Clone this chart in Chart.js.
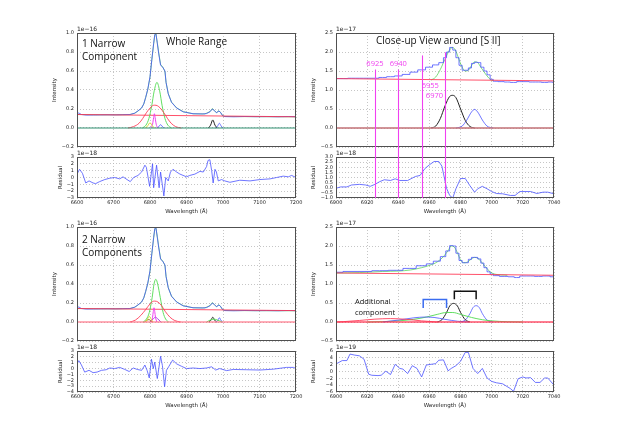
<!DOCTYPE html>
<html>
<head>
<meta charset="utf-8">
<script src="https://cdn.jsdelivr.net/npm/chart.js@4.4.1/dist/chart.umd.min.js"></script>
<style>
html, body { margin: 0; padding: 0; background: #fff; }
#wrap { position: relative; width: 623px; height: 440px; overflow: hidden; }
#wrap canvas { position: absolute; left: 0; top: 0; }
</style>
</head>
<body>
<div id="wrap"></div>
<script>
/* ===============================
   DATA
=================================*/

// axis ticks
const xTicksWhole = [6600, 6700, 6800, 6900, 7000, 7100, 7200];
const xTicksClose = [6900, 6920, 6940, 6960, 6980, 7000, 7020, 7040];
const yTicksWhole = [-0.2, 0, 0.2, 0.4, 0.6, 0.8, 1.0];
const yTicksClose = [-0.5, 0, 0.5, 1.0, 1.5, 2.0, 2.5];
const yTicksRes1 = [-3, -2, -1, 0, 1, 2, 3];
const yTicksRes2 = [-1.0, -0.5, 0, 0.5, 1.0, 1.5, 2.0, 2.5, 3.0];
const yTicksRes3 = [-4, -3, -2, -1, 0, 1, 2, 3];
const yTicksRes4 = [-6, -4, -2, 0, 2, 4, 6];

// whole range spectrum (1e-16)
const wlWhole = [6600, 6605, 6612, 6625, 6645, 6665, 6685, 6705, 6725, 6745, 6758, 6767, 6777, 6783, 6788, 6794, 6800, 6805, 6810, 6813, 6816, 6820, 6824, 6829, 6835, 6841, 6844, 6850, 6859, 6873, 6891, 6918, 6945, 6955, 6964, 6971, 6976, 6982, 6989, 6994, 6999, 7005, 7030, 7060, 7090, 7120, 7150, 7180, 7200];
const fluxWhole = [0.150, 0.158, 0.142, 0.136, 0.137, 0.138, 0.139, 0.138, 0.140, 0.142, 0.156, 0.180, 0.210, 0.255, 0.320, 0.410, 0.540, 0.720, 0.890, 0.980, 1.000, 0.890, 0.780, 0.660, 0.640, 0.600, 0.480, 0.360, 0.270, 0.210, 0.170, 0.150, 0.148, 0.152, 0.170, 0.200, 0.185, 0.160, 0.180, 0.160, 0.130, 0.120, 0.118, 0.121, 0.119, 0.120, 0.118, 0.121, 0.119];
const wlFitWhole = [6600, 6650, 6700, 6745, 6758, 6767, 6777, 6783, 6788, 6794, 6800, 6805, 6810, 6813, 6816, 6820, 6824, 6829, 6835, 6841, 6844, 6850, 6859, 6873, 6891, 6918, 6950, 6964, 6971, 6976, 6982, 6989, 6994, 6999, 7005, 7100, 7200];
const fitWhole = [0.142, 0.139, 0.139, 0.141, 0.155, 0.178, 0.212, 0.252, 0.318, 0.405, 0.535, 0.715, 0.885, 0.975, 0.995, 0.900, 0.790, 0.670, 0.640, 0.595, 0.480, 0.362, 0.272, 0.212, 0.172, 0.150, 0.148, 0.172, 0.205, 0.185, 0.162, 0.182, 0.160, 0.130, 0.121, 0.119, 0.118];
const wlEnds = [6600, 7200];
const zeroEnds = [0, 0];

// 1 narrow component, whole range
const contA = [0.142, 0.118];
const wlBroadA = [6740, 6755, 6770, 6780, 6790, 6800, 6807, 6813, 6820, 6828, 6838, 6848, 6858, 6870, 6886];
const broadA = [0, 0.015, 0.05, 0.1, 0.16, 0.21, 0.235, 0.24, 0.235, 0.21, 0.16, 0.1, 0.05, 0.015, 0];
const wlMidA = [6779, 6789, 6797, 6805, 6811, 6819, 6827, 6833, 6841, 6849, 6859];
const midA = [0, 0.03, 0.1, 0.24, 0.38, 0.48, 0.38, 0.24, 0.1, 0.03, 0];
const wlYelA = [6788, 6794, 6800, 6806, 6812];
const yelA = [0, 0.025, 0.055, 0.025, 0];
const wlMagA = [6803, 6807, 6810, 6812, 6814, 6817, 6821];
const magA = [0, 0.04, 0.11, 0.15, 0.11, 0.04, 0];
const wlBlueNarrowA = [6820, 6825, 6829, 6833, 6838];
const blueNarrowA = [0, 0.02, 0.035, 0.02, 0];
const wlBlackA = [6960, 6966, 6972, 6978, 6984];
const blackA = [0, 0.03, 0.085, 0.03, 0];
const wlBlueA = [6980, 6985, 6990, 6995, 7000];
const blueA = [0, 0.02, 0.05, 0.02, 0];

// 2 narrow components, whole range
const contC = [0.142, 0.12];
const wlBroadC = [6745, 6760, 6775, 6788, 6800, 6807, 6813, 6822, 6832, 6842, 6855, 6868, 6884];
const broadC = [0, 0.02, 0.07, 0.13, 0.19, 0.215, 0.22, 0.21, 0.17, 0.11, 0.05, 0.015, 0];
const wlMidC = [6781, 6790, 6798, 6806, 6811, 6816, 6821, 6828, 6836, 6843, 6851];
const midC = [0, 0.03, 0.1, 0.26, 0.4, 0.45, 0.4, 0.26, 0.1, 0.03, 0];
const wlMagC = [6803, 6807, 6809, 6811, 6813, 6815, 6819];
const magC = [0, 0.05, 0.11, 0.15, 0.11, 0.05, 0];
const wlPurC = [6800, 6808, 6815, 6822, 6830];
const purC = [0, 0.03, 0.05, 0.03, 0];
const wlYelC = [6788, 6793, 6798, 6803, 6808];
const yelC = [0, 0.03, 0.06, 0.03, 0];
const wlOliveC = [6785, 6792, 6798, 6804];
const oliveC = [0, 0.02, 0.025, 0];
const wlGreenSiiC = [6955, 6965, 6975, 6985, 6998];
const greenSiiC = [0, 0.02, 0.03, 0.02, 0];
const wlBlackC = [6962, 6967, 6972, 6977, 6982];
const blackC = [0, 0.02, 0.05, 0.02, 0];
const wlBlueC = [6981, 6986, 6990, 6994, 6999];
const blueC = [0, 0.02, 0.045, 0.02, 0];

// close-up, 1 narrow (1e-17)
const wlCloseB = [6900, 6905, 6910, 6915, 6920, 6925, 6930, 6935, 6940, 6945, 6950, 6955, 6960, 6964, 6968, 6970, 6972, 6974, 6976, 6978, 6980, 6982, 6984, 6986, 6988, 6990, 6992, 6994, 6996, 6998, 7000, 7002, 7006, 7010, 7014, 7018, 7022, 7026, 7030, 7034, 7038, 7040];
const fluxCloseB = [1.30, 1.30, 1.31, 1.31, 1.31, 1.31, 1.33, 1.35, 1.37, 1.41, 1.47, 1.53, 1.60, 1.66, 1.72, 1.85, 2.00, 2.12, 2.05, 1.85, 1.65, 1.52, 1.52, 1.58, 1.70, 1.73, 1.72, 1.60, 1.50, 1.40, 1.28, 1.23, 1.22, 1.21, 1.20, 1.22, 1.22, 1.21, 1.21, 1.20, 1.21, 1.20];
const wlFitB = [6961, 6964, 6967, 6969, 6971, 6973, 6975, 6977, 6979, 6981, 6983, 6985, 6987, 6989, 6991, 6993, 6995, 6997, 6999, 7001];
const fitB = [1.26, 1.34, 1.54, 1.72, 1.90, 2.06, 2.12, 2.02, 1.80, 1.60, 1.50, 1.52, 1.64, 1.74, 1.72, 1.60, 1.48, 1.37, 1.28, 1.24];
const wlCloseEnds = [6900, 7040];
const contB = [1.30, 1.24];
const wlBlackB = [6961, 6964, 6967, 6970, 6973, 6975, 6977, 6980, 6983, 6986, 6989];
const blackB = [0, 0.05, 0.25, 0.58, 0.83, 0.86, 0.80, 0.50, 0.20, 0.04, 0];
const wlBlueB = [6977, 6981, 6984, 6987, 6989, 6991, 6994, 6997, 7001];
const blueB = [0, 0.05, 0.21, 0.42, 0.49, 0.42, 0.21, 0.05, 0];

// fit-window markers on the close-up
const markWl = [6925, 6940, 6955, 6970];
const markTop = [1.54, 1.54, 1.91, 1.99];
const markLabelY = [1.70, 1.70, 1.12, 0.85];
const markAlign = ['center', 'center', 'left', 'right'];

// close-up, 2 narrow
const wlCloseD = [6900, 6909, 6918, 6928, 6939, 6947, 6956, 6960, 6965, 6969, 6972, 6974, 6976, 6978, 6980, 6982, 6984, 6986, 6988, 6990, 6992, 6994, 6996, 6998, 7000, 7002, 7008, 7013, 7016, 7020, 7025, 7030, 7035, 7040];
const fluxCloseD = [1.31, 1.33, 1.33, 1.35, 1.36, 1.41, 1.48, 1.53, 1.60, 1.72, 1.87, 2.01, 2.00, 1.81, 1.62, 1.56, 1.56, 1.65, 1.70, 1.70, 1.66, 1.55, 1.43, 1.32, 1.26, 1.22, 1.20, 1.19, 1.17, 1.21, 1.21, 1.20, 1.21, 1.19];
const wlFitD = [6900, 6915, 6930, 6940, 6948, 6955, 6960, 6965, 6969, 6972, 6974, 6976, 6978, 6980, 6982, 6984, 6987, 6989, 6991, 6993, 6996, 6999, 7002, 7010];
const fitD = [1.29, 1.30, 1.33, 1.34, 1.37, 1.43, 1.49, 1.58, 1.72, 1.88, 2.00, 1.97, 1.82, 1.63, 1.56, 1.57, 1.66, 1.70, 1.68, 1.60, 1.45, 1.32, 1.26, 1.23];
const contD = [1.29, 1.23];
const wlBlackD = [6965, 6968, 6971, 6973, 6975.5, 6978, 6980, 6983, 6986];
const blackD = [0, 0.06, 0.25, 0.42, 0.49, 0.42, 0.25, 0.06, 0];
const wlBlueD = [6980, 6983, 6986, 6988, 6990, 6992, 6994, 6997, 7001];
const blueD = [0, 0.05, 0.22, 0.38, 0.43, 0.38, 0.22, 0.05, 0];
const wlGreenD = [6920, 6930, 6940, 6950, 6958, 6965, 6971, 6975, 6980, 6987, 6994, 7000, 7010, 7020];
const greenD = [0, 0.01, 0.03, 0.07, 0.13, 0.2, 0.25, 0.25, 0.2, 0.12, 0.06, 0.03, 0.006, 0];
const wlRedD = [6900, 6905, 6915, 6925, 6935, 6945, 6955, 6965];
const redD = [0, 0.01, 0.04, 0.075, 0.09, 0.07, 0.03, 0];
const wlAddD = [6930, 6940, 6950, 6957, 6963, 6970, 6978, 6985];
const addD = [0, 0.05, 0.11, 0.13, 0.12, 0.07, 0.02, 0];

// doublet brackets
const brX0 = [6956, 6976];
const brX1 = [6971, 6990];
const brTop = [0.59, 0.81];
const brLeg = [0.37, 0.60];
const brColor = ['#3a6cf0', '#111'];

// residuals
const wlRes1 = [6600, 6607, 6615, 6624, 6633, 6644, 6651, 6662, 6676, 6690, 6703, 6717, 6726, 6737, 6746, 6755, 6767, 6777, 6786, 6790, 6799, 6807, 6810, 6818, 6825, 6829, 6838, 6843, 6850, 6856, 6863, 6873, 6882, 6900, 6909, 6923, 6937, 6946, 6955, 6959, 6964, 6969, 6973, 6978, 6982, 6987, 6996, 7005, 7019, 7046, 7074, 7101, 7129, 7147, 7165, 7179, 7188, 7200];
const res1 = [0.5, 1.2, 0.6, -0.8, -0.5, -0.8, -0.9, -0.6, -0.3, -0.1, 0.0, -0.2, 0.1, -0.3, -0.6, 0.0, 0.3, 0.8, 1.8, 1.5, -1.3, 2.0, -1.5, 1.8, -1.5, 0.8, -2.7, 0.0, -0.5, 0.8, 1.2, 0.8, 0.5, 0.1, 0.3, 0.5, 0.9, 0.8, 1.6, 2.5, 2.6, 1.0, -0.8, 1.2, 0.8, -0.5, -0.3, -0.5, -0.7, -0.4, -0.5, -0.3, -0.2, 0.0, 0.2, 0.1, 0.3, 0.0];
const wlRes2 = [6900, 6903, 6907, 6910, 6915, 6919, 6922, 6925, 6928, 6931, 6935, 6938, 6941, 6946, 6951, 6954, 6957, 6960, 6963, 6966, 6968, 6971, 6973, 6975, 6977, 6980, 6983, 6986, 6989, 6991, 6994, 6997, 7000, 7003, 7007, 7012, 7015, 7018, 7025, 7029, 7033, 7036, 7040];
const res2 = [-0.05, 0.08, 0.08, 0.27, 0.33, 0.27, 0.14, 0.33, 0.59, 0.78, 0.71, 0.87, 0.71, 0.71, 1.1, 1.2, 1.86, 2.24, 2.56, 2.56, 2.11, -0.05, -0.75, -1.0, -0.1, 0.9, 0.9, 0.2, -0.43, -0.1, 0.14, -0.1, -0.37, -0.56, -0.59, -0.75, -0.75, -0.37, -0.37, -0.56, -0.43, -0.43, -0.59];
const wlRes3 = [6600, 6605, 6612, 6621, 6633, 6644, 6655, 6667, 6680, 6690, 6703, 6717, 6731, 6743, 6754, 6765, 6777, 6786, 6792, 6798, 6804, 6809, 6813, 6820, 6829, 6834, 6840, 6845, 6852, 6862, 6873, 6886, 6900, 6918, 6937, 6955, 6969, 6980, 6991, 7010, 7028, 7065, 7101, 7138, 7174, 7193, 7200];
const res3 = [0.8, 1.35, 0.63, -0.6, -0.3, -0.7, -0.6, -0.3, -0.2, 0.1, 0.0, 0.2, -0.15, -0.5, 0.1, -0.15, -0.3, 0.6, -0.3, -1.6, 1.6, 0.0, 1.1, -1.7, 2.1, 0.5, -3.1, -0.3, 0.4, 1.45, 0.8, 0.4, 0.0, 0.1, 0.0, 0.1, 0.3, -0.25, 0.0, -0.35, -0.15, -0.2, -0.25, -0.1, 0.2, 0.2, 0.0];
const wlRes4 = [6900, 6904, 6907, 6909, 6912, 6915, 6918, 6921, 6923, 6927, 6929, 6932, 6935, 6938, 6941, 6943, 6946, 6949, 6952, 6955, 6958, 6961, 6964, 6966, 6969, 6972, 6974, 6977, 6980, 6983, 6985, 6988, 6991, 6994, 6997, 7000, 7003, 7007, 7012, 7014, 7017, 7020, 7022, 7025, 7028, 7031, 7034, 7036, 7040];
const res4 = [2.2, 3.2, 3.2, 5.1, 4.8, 4.6, 3.6, -0.8, -1.1, -1.2, -1.1, 0.1, -0.9, 2.1, 0.9, 0.7, -0.6, 1.7, 0.9, -1.6, 1.9, 2.1, 2.3, 3.3, 3.4, 0.2, 0.9, 1.7, 3.0, 5.6, 5.6, 0.9, -0.6, 0.9, -1.9, -2.9, -3.3, -3.6, -5.0, -5.8, -2.1, -1.6, -1.9, -1.8, -3.2, -3.2, -1.9, -1.9, -4.0];

/* ===============================
   HELPERS
=================================*/

const W = 623, H = 440;
const FONT = '"DejaVu Sans", sans-serif';
const NOTE_FONT = '"Open Sans", sans-serif';
const C_BLUE = 'rgba(70,80,255,0.78)';
const C_FIT = 'rgba(40,200,40,0.6)';
const C_GREEN = 'rgba(90,220,90,0.95)';
const C_RED = 'rgba(255,50,80,0.85)';
const C_PINK = 'rgba(255,110,130,0.75)';
const C_TEAL = '#2f8f70';
const C_MAG = '#f040f0';

function line(xs, ys, color, extra) {
    return Object.assign({
        data: xs.map((x, i) => ({ x: x, y: ys[i] })),
        borderColor: color,
        borderWidth: 1,
        pointRadius: 0,
        fill: false,
        tension: 0
    }, extra || {});
}

const smooth = { cubicInterpolationMode: 'monotone' };

function fmt(v, dec) {
    let s = v.toFixed(dec);
    if (parseFloat(s) === 0) s = (0).toFixed(dec);
    return s.replace('-', '\u2212');
}

// vertical fit-window markers, from y0 down to y1 (pixels)
function drawMarks(ctx, xs, y0s, y1) {
    ctx.save();
    ctx.setLineDash([]);
    ctx.strokeStyle = C_MAG;
    ctx.lineWidth = 1.1;
    markWl.forEach((wl, i) => {
        const px = Math.round(xs.getPixelForValue(wl)) + 0.5;
        ctx.beginPath();
        ctx.moveTo(px, y0s[i]);
        ctx.lineTo(px, y1);
        ctx.stroke();
    });
    ctx.restore();
}

function makeDecor(cfg) {
    return {
        id: 'decor',
        afterDatasetsDraw(chart) {
            const a = chart.chartArea, ctx = chart.ctx;
            ctx.save();

            ctx.strokeStyle = '#505050';
            ctx.lineWidth = 1;
            ctx.strokeRect(Math.round(a.left) + 0.5, Math.round(a.top) + 0.5,
                Math.round(a.right - a.left) - 1, Math.round(a.bottom - a.top) - 1);

            ctx.fillStyle = '#222';
            ctx.font = '6px ' + FONT;
            ctx.textAlign = 'left';
            ctx.textBaseline = 'bottom';
            ctx.fillText(cfg.offset, a.left, a.top - 0.5);

            ctx.save();
            ctx.font = '5.5px ' + FONT;
            ctx.translate(a.left + cfg.yTitleDx, (a.top + a.bottom) / 2);
            ctx.rotate(-Math.PI / 2);
            ctx.textAlign = 'center';
            ctx.textBaseline = 'middle';
            ctx.fillText(cfg.yTitle, 0, 0);
            ctx.restore();

            if (cfg.showX) {
                ctx.font = '5.5px ' + FONT;
                ctx.textAlign = 'center';
                ctx.textBaseline = 'middle';
                ctx.fillText('Wavelength (\u00c5)', (a.left + a.right) / 2, a.bottom + 13.5);
            }

            (cfg.notes || []).forEach(n => {
                ctx.font = n.size + 'px ' + NOTE_FONT;
                ctx.fillStyle = '#111';
                ctx.textAlign = 'left';
                ctx.textBaseline = 'middle';
                ctx.fillText(n.text, a.left + n.dx, a.top + n.dy);
            });

            if (cfg.extra) cfg.extra(chart, ctx);
            ctx.restore();
        }
    };
}

function makePanel(cfg) {
    const cv = document.createElement('canvas');
    cv.width = W;
    cv.height = H;
    document.getElementById('wrap').appendChild(cv);

    const b = cfg.box;
    const grid = { color: '#b8b8b8', lineWidth: 0.8, drawTicks: false };
    const border = { display: false, dash: [1, 2] };
    const tickFont = { family: FONT, size: 5 };

    return new Chart(cv, {
        type: 'line',
        data: { datasets: cfg.datasets },
        options: {
            responsive: false,
            animation: false,
            events: [],
            layout: { padding: { left: 0, top: b.top, right: W - b.right, bottom: 0 } },
            plugins: { legend: { display: false }, tooltip: { enabled: false } },
            scales: {
                x: {
                    type: 'linear',
                    min: cfg.xTicks[0],
                    max: cfg.xTicks[cfg.xTicks.length - 1],
                    afterFit: s => { s.height = H - b.bottom; },
                    afterBuildTicks: s => { s.ticks = cfg.xTicks.map(v => ({ value: v })); },
                    grid: grid,
                    border: border,
                    ticks: {
                        display: !!cfg.showX, autoSkip: false, maxRotation: 0,
                        padding: 2, color: '#222', font: tickFont,
                        callback: v => String(v)
                    }
                },
                y: {
                    type: 'linear',
                    min: cfg.yTicks[0],
                    max: cfg.yTicks[cfg.yTicks.length - 1],
                    afterFit: s => { s.width = b.left; },
                    afterBuildTicks: s => { s.ticks = cfg.yTicks.map(v => ({ value: v })); },
                    grid: grid,
                    border: border,
                    ticks: {
                        autoSkip: false, padding: 3, color: '#222', font: tickFont,
                        callback: v => fmt(v, cfg.yDec)
                    }
                }
            }
        },
        plugins: [makeDecor(cfg)]
    });
}

/* ===============================
   PANELS
=================================*/

const LEFT = { l: 77, r: 296 };
const RIGHT = { l: 336, r: 554 };

// top-left: whole range, 1 narrow
makePanel({
    box: { left: LEFT.l, right: LEFT.r, top: 33, bottom: 147 },
    xTicks: xTicksWhole, yTicks: yTicksWhole, yDec: 1,
    offset: '1e\u221216', yTitle: 'Intensity', yTitleDx: -22,
    notes: [
        { text: '1 Narrow', dx: 5, dy: 11, size: 10 },
        { text: 'Component', dx: 5, dy: 24, size: 10 },
        { text: 'Whole Range', dx: 89, dy: 9, size: 10 }
    ],
    datasets: [
        line(wlEnds, zeroEnds, C_TEAL),
        line(wlBroadA, broadA, C_RED, smooth),
        line(wlMidA, midA, C_GREEN, smooth),
        line(wlYelA, yelA, '#dada30', smooth),
        line(wlMagA, magA, C_MAG, smooth),
        line(wlBlueNarrowA, blueNarrowA, C_BLUE, smooth),
        line(wlBlackA, blackA, '#222', smooth),
        line(wlBlueA, blueA, C_BLUE, smooth),
        line(wlEnds, contA, C_RED),
        line(wlWhole, fluxWhole, C_BLUE),
        line(wlFitWhole, fitWhole, C_FIT)
    ]
});

makePanel({
    box: { left: LEFT.l, right: LEFT.r, top: 157, bottom: 198 },
    xTicks: xTicksWhole, yTicks: yTicksRes1, yDec: 0, showX: true,
    offset: '1e\u221218', yTitle: 'Residual', yTitleDx: -16.5,
    datasets: [line(wlRes1, res1, C_BLUE)]
});

// top-right: close-up, 1 narrow
const chartB = makePanel({
    box: { left: RIGHT.l, right: RIGHT.r, top: 33, bottom: 147 },
    xTicks: xTicksClose, yTicks: yTicksClose, yDec: 1,
    offset: '1e\u221217', yTitle: 'Intensity', yTitleDx: -22,
    notes: [{ text: 'Close-up View around [S II]', dx: 40, dy: 8, size: 10 }],
    datasets: [
        line(wlCloseEnds, zeroEnds, C_PINK, { borderWidth: 1.5 }),
        line(wlCloseEnds, zeroEnds, C_TEAL),
        line(wlBlackB, blackB, '#222', smooth),
        line(wlBlueB, blueB, C_BLUE, smooth),
        line(wlCloseEnds, contB, C_RED),
        line(wlCloseB, fluxCloseB, C_BLUE, { stepped: 'middle' }),
        line(wlFitB, fitB, C_FIT, smooth)
    ],
    extra: (chart, ctx) => {
        const xs = chart.scales.x, ys = chart.scales.y;
        drawMarks(ctx, xs, markTop.map(v => ys.getPixelForValue(v)), chart.chartArea.bottom);
        ctx.fillStyle = C_MAG;
        ctx.font = '7.5px ' + NOTE_FONT;
        ctx.textBaseline = 'middle';
        markWl.forEach((wl, i) => {
            const px = xs.getPixelForValue(wl);
            const dx = markAlign[i] === 'right' ? -2 : 0;
            ctx.textAlign = markAlign[i];
            ctx.fillText(String(wl), px + dx, ys.getPixelForValue(markLabelY[i]));
        });
    }
});

makePanel({
    box: { left: RIGHT.l, right: RIGHT.r, top: 157, bottom: 198 },
    xTicks: xTicksClose, yTicks: yTicksRes2, yDec: 1, showX: true,
    offset: '1e\u221218', yTitle: 'Residual', yTitleDx: -22,
    datasets: [line(wlRes2, res2, C_BLUE)],
    extra: (chart, ctx) => {
        const top = chartB.chartArea.bottom;
        drawMarks(ctx, chart.scales.x, markWl.map(() => top), chart.chartArea.bottom);
    }
});

// bottom-left: whole range, 2 narrow
makePanel({
    box: { left: LEFT.l, right: LEFT.r, top: 227, bottom: 341 },
    xTicks: xTicksWhole, yTicks: yTicksWhole, yDec: 1,
    offset: '1e\u221216', yTitle: 'Intensity', yTitleDx: -22,
    notes: [
        { text: '2 Narrow', dx: 5, dy: 13, size: 10 },
        { text: 'Components', dx: 5, dy: 26, size: 10 }
    ],
    datasets: [
        line(wlEnds, zeroEnds, C_PINK, { borderWidth: 1.6 }),
        line(wlBroadC, broadC, C_RED, smooth),
        line(wlMidC, midC, C_GREEN, smooth),
        line(wlYelC, yelC, '#dada30', smooth),
        line(wlOliveC, oliveC, '#8a6a20', smooth),
        line(wlMagC, magC, C_MAG, smooth),
        line(wlPurC, purC, '#a040e0', smooth),
        line(wlGreenSiiC, greenSiiC, C_GREEN, smooth),
        line(wlBlackC, blackC, '#222', smooth),
        line(wlBlueC, blueC, C_BLUE, smooth),
        line(wlEnds, contC, C_RED),
        line(wlWhole, fluxWhole, C_BLUE),
        line(wlFitWhole, fitWhole, C_FIT)
    ]
});

makePanel({
    box: { left: LEFT.l, right: LEFT.r, top: 351, bottom: 392 },
    xTicks: xTicksWhole, yTicks: yTicksRes3, yDec: 0, showX: true,
    offset: '1e\u221218', yTitle: 'Residual', yTitleDx: -16.5,
    datasets: [line(wlRes3, res3, C_BLUE)]
});

// bottom-right: close-up, 2 narrow
makePanel({
    box: { left: RIGHT.l, right: RIGHT.r, top: 227, bottom: 341 },
    xTicks: xTicksClose, yTicks: yTicksClose, yDec: 1,
    offset: '1e\u221217', yTitle: 'Intensity', yTitleDx: -22,
    notes: [
        { text: 'Additional', dx: 19, dy: 75, size: 7.5 },
        { text: 'component', dx: 19, dy: 86, size: 7.5 }
    ],
    datasets: [
        line(wlCloseEnds, zeroEnds, C_RED, { borderWidth: 1.5 }),
        line(wlRedD, redD, C_RED, smooth),
        line(wlAddD, addD, C_BLUE, smooth),
        line(wlGreenD, greenD, C_GREEN, smooth),
        line(wlBlackD, blackD, '#222', smooth),
        line(wlBlueD, blueD, C_BLUE, smooth),
        line(wlCloseEnds, contD, C_RED),
        line(wlCloseD, fluxCloseD, C_BLUE, { stepped: 'middle' }),
        line(wlFitD, fitD, C_FIT, smooth)
    ],
    extra: (chart, ctx) => {
        const xs = chart.scales.x, ys = chart.scales.y;
        ctx.lineWidth = 1.5;
        brX0.forEach((x0, i) => {
            const p0 = xs.getPixelForValue(x0), p1 = xs.getPixelForValue(brX1[i]);
            const yt = ys.getPixelForValue(brTop[i]), yl = ys.getPixelForValue(brLeg[i]);
            ctx.strokeStyle = brColor[i];
            ctx.beginPath();
            ctx.moveTo(p0, yl);
            ctx.lineTo(p0, yt);
            ctx.lineTo(p1, yt);
            ctx.lineTo(p1, yl);
            ctx.stroke();
        });
    }
});

makePanel({
    box: { left: RIGHT.l, right: RIGHT.r, top: 351, bottom: 392 },
    xTicks: xTicksClose, yTicks: yTicksRes4, yDec: 0, showX: true,
    offset: '1e\u221219', yTitle: 'Residual', yTitleDx: -22,
    datasets: [line(wlRes4, res4, C_BLUE)]
});
</script>
</body>
</html>
